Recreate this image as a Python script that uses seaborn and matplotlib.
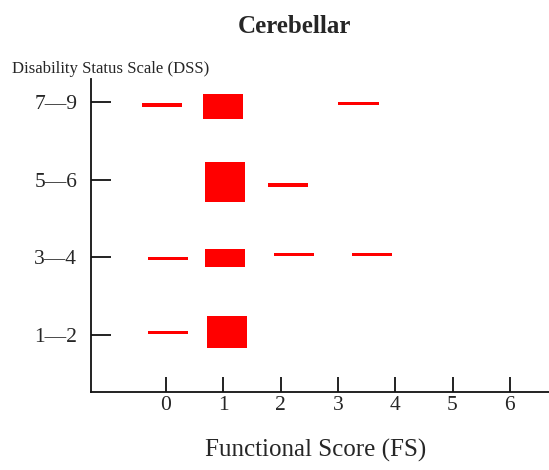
import matplotlib
matplotlib.use("Agg")
import matplotlib.pyplot as plt
import seaborn as sns
import pandas as pd

sns.set_style("ticks")
plt.rcParams["font.family"] = ["Liberation Serif", "DejaVu Serif"]

# Disability status groups (rows) and functional score axis
dss_labels = ["1\u20142", "3\u20144", "5\u20146", "7\u20149"]
fs_ticks = [0, 1, 2, 3, 4, 5, 6]

# Observed cerebellar FS per DSS group: score, row position, relative share
fs_score = [-0.07, 0.99, 3.36, 1.03, 2.13, 0.04, 1.03, 2.24, 3.59, 0.04, 1.07]
dss_level = [2.96, 2.94, 2.98, 1.97, 1.93, 0.98, 0.99, 1.04, 1.04, 0.03, 0.04]
share = [0.04, 0.326, 0.04, 0.515, 0.04, 0.04, 0.223, 0.04, 0.04, 0.04, 0.403]

df = pd.DataFrame({"fs": fs_score, "dss": dss_level, "share": share})

fig, ax = plt.subplots(figsize=(5.49, 4.70), dpi=100)
fig.subplots_adjust(left=0.1658, right=1.0, bottom=0.166, top=0.832)

ax.bar(df["fs"], df["share"], width=0.70, bottom=df["dss"] - df["share"] / 2,
       color="#ff0000", linewidth=0)

ax.set_xlim(-1.309, 6.684)
ax.set_ylim(-0.734, 3.295)
ax.set_xticks(fs_ticks)
ax.set_xticklabels([str(t) for t in fs_ticks], fontsize=15.5)
ax.set_yticks(range(len(dss_labels)))
ax.set_yticklabels(dss_labels, fontsize=15.5)

sns.despine(ax=ax, top=True, right=True)
for side in ("left", "bottom"):
    ax.spines[side].set_linewidth(1.3)
    ax.spines[side].set_color("#111111")

ax.tick_params(axis="y", direction="in", length=14.5, width=1.3, pad=10, color="#111111")
ax.tick_params(axis="x", direction="in", length=11, width=1.3, pad=3, color="#111111")

ax.set_title("Cerebellar", x=0.445, y=1.147, va="baseline", pad=0,
             fontsize=18, fontweight="bold")

ax.set_ylabel("Disability Status Scale (DSS)", rotation=0, fontsize=12.1,
              ha="center", va="baseline")
ax.yaxis.set_label_coords(0.0437, 1.019)

ax.set_xlabel("Functional Score (FS)", fontsize=18, va="top")
ax.xaxis.set_label_coords(0.491, -0.150)

fig.savefig("out.png", dpi=100)
